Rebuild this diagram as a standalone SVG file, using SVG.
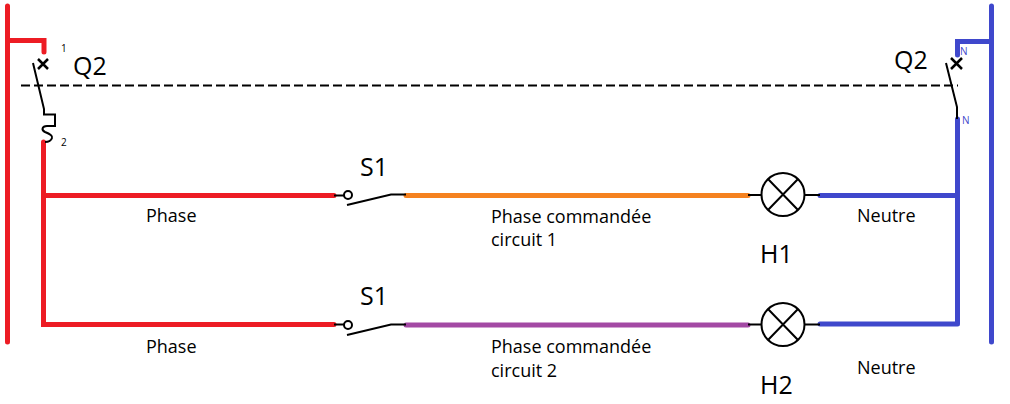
<svg xmlns="http://www.w3.org/2000/svg" width="1010" height="404" viewBox="0 0 1010 404">
<style>
.w{fill:none;stroke-width:5;stroke-linecap:round;stroke-linejoin:miter}
.r{stroke:#ed1c24}.b{stroke:#3f48cc}.o{stroke:#f58220}.p{stroke:#a349a4}
.k{fill:none;stroke:#000;stroke-width:2}
.k3{fill:none;stroke:#000;stroke-width:2.5}
text{font-family:"Open Sans","Noto Sans","Liberation Sans",sans-serif;fill:#000}
.l{font-size:18px}.t{font-size:25px}.s{font-size:10px}
</style>
<rect width="1010" height="404" fill="#fff"/>
<g id="connectors">
<path class="w r" d="M7.500 6V342M7.500 40.500H44V52"/>
<path class="w r" d="M43.500 142V324.500H334M44 195.500H334"/>
<path class="w o" d="M406 195.500H748"/>
<path class="w p" d="M406 325H748"/>
<path class="w b" d="M991.500 6V342M991.500 41.500H957.500V55"/>
<path class="w b" d="M957.500 119V324M820 195.500H957M820 324H957"/>
<path d="M21 85.500H958" fill="none" stroke="#000" stroke-width="2" stroke-dasharray="9 4"/>
</g>
<g id="q2-left">
<path class="k" d="M33 63L44 109V114.500H55V126H47C42 126 41 130 45 132C50 134 53 136 52 138C51 141 48 142 45 142"/>
<path class="k3" d="M38 59L48 69M48 59L38 69"/>
<text class="t" x="73" y="75">Q2</text>
<text class="s" x="61" y="52">1</text>
<text class="s" x="61" y="146">2</text>
</g>
<g id="q2-right">
<path class="k" d="M946 63L957 107V119"/>
<path class="k3" d="M951 58L962 69M962 58L951 69"/>
<text class="t" x="894" y="69">Q2</text>
<text class="s" x="960" y="55" fill="#3f48cc" style="fill:#3f48cc">N</text>
<text class="s" x="962" y="124" style="fill:#3f48cc">N</text>
</g>
<g id="s1-top">
<path class="k" d="M334 195.500H344M347 205L391 194.500H406"/>
<circle class="k" cx="348" cy="195" r="4" fill="#fff"/>
<text class="t" x="360" y="176">S1</text>
</g>
<g id="s1-bottom">
<path class="k" d="M334 324.500H344M347 335L391 324.500H406"/>
<circle class="k" cx="348" cy="325" r="4" fill="#fff"/>
<text class="t" x="360" y="305">S1</text>
</g>
<g id="h1">
<path class="k" d="M748 195H762M805 195H820"/>
<circle class="k" cx="783" cy="194.500" r="21.500"/>
<path class="k" d="M768 179L798 210M798 179L768 210"/>
<text class="t" x="760" y="263">H1</text>
</g>
<g id="h2">
<path class="k" d="M748 324.500H762M805 324.500H820"/>
<circle class="k" cx="783" cy="324.500" r="21.500"/>
<path class="k" d="M768 309L798 340M798 309L768 340"/>
<text class="t" x="760" y="394">H2</text>
</g>
<g id="labels">
<text class="l" x="146" y="222">Phase</text>
<text class="l" x="146" y="353">Phase</text>
<text class="l" x="491" y="223">Phase commandée</text>
<text class="l" x="491" y="246">circuit 1</text>
<text class="l" x="491" y="353">Phase commandée</text>
<text class="l" x="491" y="377">circuit 2</text>
<text class="l" x="857" y="222">Neutre</text>
<text class="l" x="857" y="374">Neutre</text>
</g>
</svg>
